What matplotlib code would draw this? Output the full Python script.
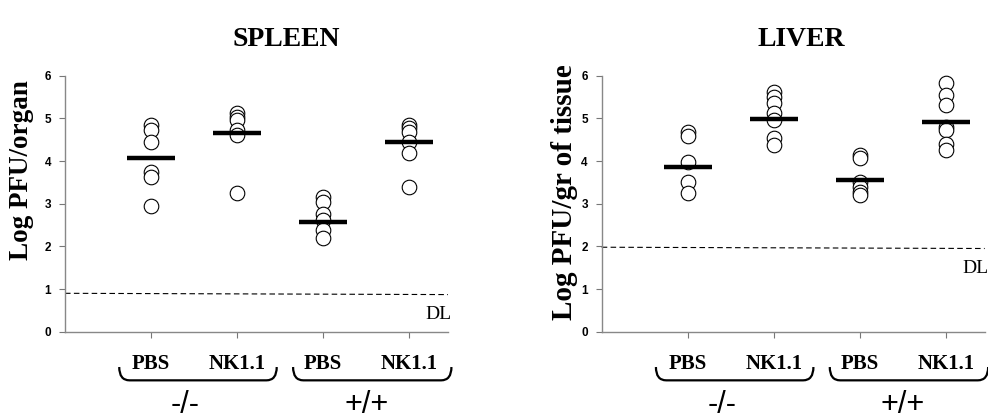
import matplotlib
matplotlib.use("Agg")
import matplotlib.pyplot as plt
from matplotlib.path import Path
from matplotlib.patches import PathPatch
from matplotlib.transforms import blended_transform_factory

# values (log PFU)
categories = ["PBS", "NK1.1", "PBS", "NK1.1"]
genotypes = ["-/-", "+/+"]

spleen_points = [
    [4.85, 4.73, 4.45, 3.75, 3.62, 2.94],
    [5.12, 5.04, 4.96, 4.73, 4.61, 3.24],
    [3.16, 3.04, 2.77, 2.62, 2.38, 2.19],
    [4.85, 4.77, 4.68, 4.45, 4.18, 3.38],
]
spleen_means = [4.06, 4.65, 2.56, 4.45]
spleen_dl = 0.9

liver_points = [
    [4.69, 4.58, 3.98, 3.52, 3.24],
    [5.62, 5.51, 5.35, 5.12, 4.96, 4.53, 4.38],
    [4.14, 4.07, 3.52, 3.40, 3.28, 3.20],
    [5.82, 5.55, 5.31, 4.80, 4.73, 4.41, 4.26],
]
liver_means = [3.87, 4.99, 3.55, 4.92]
liver_dl = 1.98

SERIF = "Liberation Serif"
SANS = "Liberation Sans"


def draw_brace(ax, x0, x1, y_top=-0.138, y_bot=-0.19, r=0.12):
    trans = blended_transform_factory(ax.transData, ax.transAxes)
    verts = [(x0, y_top), (x0, y_bot), (x0 + r, y_bot),
             (x1 - r, y_bot),
             (x1, y_bot), (x1, y_top)]
    codes = [Path.MOVETO, Path.CURVE3, Path.CURVE3,
             Path.LINETO,
             Path.CURVE3, Path.CURVE3]
    patch = PathPatch(Path(verts, codes), fill=False, lw=1.6,
                      edgecolor="black", transform=trans, clip_on=False)
    ax.add_patch(patch)


def organ_panel(ax, points, means, dl):
    xs = range(1, len(points) + 1)
    for x, vals in zip(xs, points):
        ax.plot([x] * len(vals), vals, "o", ms=10.5, mfc="white",
                mec="black", mew=0.8, clip_on=False, zorder=3)
    ax.hlines(means, [x - 0.28 for x in xs], [x + 0.28 for x in xs],
              colors="black", lw=3.2, zorder=4)
    ax.plot([0, 4.45], [dl, dl - 0.03], color="black", lw=0.8,
            ls=(0, (5, 3)), clip_on=False)
    ax.text(4.19, dl - 0.5, "DL", family=SERIF, fontsize=14,
            ha="left", va="center", clip_on=False)

    ax.set_xlim(0, 4.45)
    ax.set_ylim(0, 6)
    ax.set_yticks(range(7))
    ax.set_yticklabels([str(i) for i in range(7)], family=SANS,
                       fontweight="bold", fontsize=8.5)
    ax.set_xticks(list(xs))
    ax.set_xticklabels(categories, family=SERIF, fontweight="bold",
                       fontsize=15)
    ax.tick_params(axis="y", length=4, width=0.8, pad=6, color="#777777")
    ax.tick_params(axis="x", length=4, width=0.8, pad=12, color="#777777")
    for side in ["top", "right"]:
        ax.spines[side].set_visible(False)
    for side in ["left", "bottom"]:
        ax.spines[side].set_color("#888888")
        ax.spines[side].set_linewidth(1.0)

    draw_brace(ax, 0.63, 2.46)
    draw_brace(ax, 2.65, 4.49)
    trans = blended_transform_factory(ax.transData, ax.transAxes)
    ax.text(1.4, -0.285, genotypes[0], transform=trans, family=SANS,
            fontsize=22, ha="center", va="center")
    ax.text(3.5, -0.285, genotypes[1], transform=trans, family=SANS,
            fontsize=22, ha="center", va="center")


fig = plt.figure(figsize=(9.88, 4.19), dpi=100)
ax1 = fig.add_axes([65 / 988, 1 - 331.7 / 419, 383 / 988, 256 / 419])
ax2 = fig.add_axes([601.7 / 988, 1 - 331.7 / 419, 383 / 988, 256 / 419])

organ_panel(ax1, spleen_points, spleen_means, spleen_dl)
organ_panel(ax2, liver_points, liver_means, liver_dl)

fig.text(286 / 988, 1 - 40 / 419, "SPLEEN", family=SERIF, fontweight="bold",
         fontsize=20, ha="center", va="center")
fig.text(801 / 988, 1 - 40 / 419, "LIVER", family=SERIF, fontweight="bold",
         fontsize=20, ha="center", va="center")
fig.text(22 / 988, 1 - 170 / 419, "Log PFU/organ", family=SERIF,
         fontweight="bold", fontsize=19.5, rotation=90, ha="center",
         va="center")
fig.text(565 / 988, 1 - 192 / 419, "Log PFU/gr of tissue", family=SERIF,
         fontweight="bold", fontsize=21, rotation=90, ha="center",
         va="center")

fig.savefig("out.png", dpi=100)
